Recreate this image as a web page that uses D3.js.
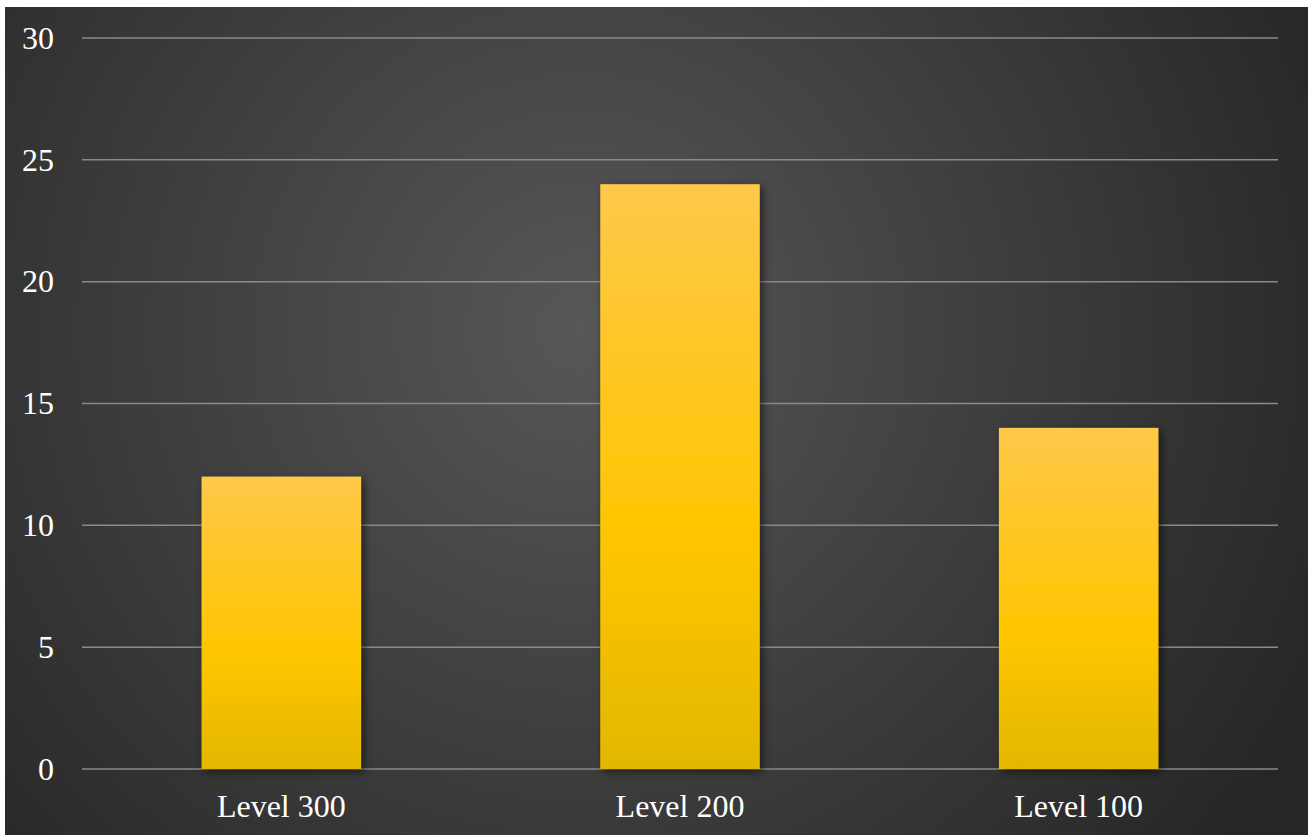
<!DOCTYPE html>
<html>
<head>
<meta charset="utf-8">
<script src="https://cdn.jsdelivr.net/npm/d3@7"></script>
<style>
  html, body { margin: 0; padding: 0; background: #ffffff; }
  svg { display: block; }
</style>
</head>
<body>
<div id="chart"></div>
<script>
// Datos del gráfico
const categories = ['Level 300', 'Level 200', 'Level 100'];
const values = [12, 24, 14];
const yTicks = [0, 5, 10, 15, 20, 25, 30];

const W = 1314, H = 838;
const frame = { x: 5, y: 7, w: 1303, h: 828 };
const margin = { top: 38, right: 36, bottom: 69, left: 82 };

const svg = d3.select('#chart').append('svg')
    .attr('width', W)
    .attr('height', H);

const defs = svg.append('defs');

// Fondo con degradado radial
const bg = defs.append('radialGradient')
    .attr('id', 'bgGrad')
    .attr('gradientUnits', 'userSpaceOnUse')
    .attr('cx', 580).attr('cy', 330).attr('r', 820);
bg.append('stop').attr('offset', '0%').attr('stop-color', '#575757');
bg.append('stop').attr('offset', '100%').attr('stop-color', '#262626');

// Degradado de las barras
const barGrad = defs.append('linearGradient')
    .attr('id', 'barGrad')
    .attr('x1', 0).attr('y1', 0).attr('x2', 0).attr('y2', 1);
barGrad.append('stop').attr('offset', '0%').attr('stop-color', '#FFC84A');
barGrad.append('stop').attr('offset', '60%').attr('stop-color', '#FFC600');
barGrad.append('stop').attr('offset', '100%').attr('stop-color', '#E3B700');

// Sombra
const shadow = defs.append('filter')
    .attr('id', 'shadow')
    .attr('x', '-20%').attr('y', '-10%').attr('width', '140%').attr('height', '120%');
shadow.append('feDropShadow')
    .attr('dx', 3).attr('dy', 3).attr('stdDeviation', 4)
    .attr('flood-color', '#000').attr('flood-opacity', 0.55);

svg.append('rect')
    .attr('x', frame.x).attr('y', frame.y)
    .attr('width', frame.w).attr('height', frame.h)
    .attr('fill', 'url(#bgGrad)');

const x = d3.scaleBand()
    .domain(categories)
    .range([margin.left, W - margin.right])
    .paddingInner(0.6)
    .paddingOuter(0.3);

const y = d3.scaleLinear()
    .domain([0, 30])
    .range([H - margin.bottom, margin.top]);

// Líneas de cuadrícula
svg.append('g')
    .selectAll('line')
    .data(yTicks)
    .enter()
    .append('line')
    .attr('x1', margin.left)
    .attr('x2', W - margin.right)
    .attr('y1', d => y(d))
    .attr('y2', d => y(d))
    .attr('stroke', '#8a8a8a')
    .attr('stroke-width', 1.5);

// Barras
svg.append('g')
    .selectAll('rect')
    .data(values)
    .enter()
    .append('rect')
    .attr('x', (d, i) => x(categories[i]))
    .attr('y', d => y(d))
    .attr('width', x.bandwidth())
    .attr('height', d => y(0) - y(d))
    .attr('fill', 'url(#barGrad)')
    .attr('filter', 'url(#shadow)');

// Etiquetas eje Y
const yAxis = d3.axisLeft(y).tickValues(yTicks).tickSize(0).tickPadding(0);
const gy = svg.append('g')
    .attr('transform', `translate(${margin.left - 28},0)`)
    .call(yAxis);
gy.select('.domain').remove();
gy.selectAll('text')
    .attr('font-family', '"Liberation Serif", "Times New Roman", serif')
    .attr('font-size', 32)
    .attr('fill', '#ffffff');

// Etiquetas eje X
const xAxis = d3.axisBottom(x).tickSize(0).tickPadding(0);
const gx = svg.append('g')
    .attr('transform', `translate(0,${H - margin.bottom + 25})`)
    .call(xAxis);
gx.select('.domain').remove();
gx.selectAll('text')
    .attr('font-family', '"Liberation Serif", "Times New Roman", serif')
    .attr('font-size', 32)
    .attr('fill', '#ffffff');
</script>
</body>
</html>
